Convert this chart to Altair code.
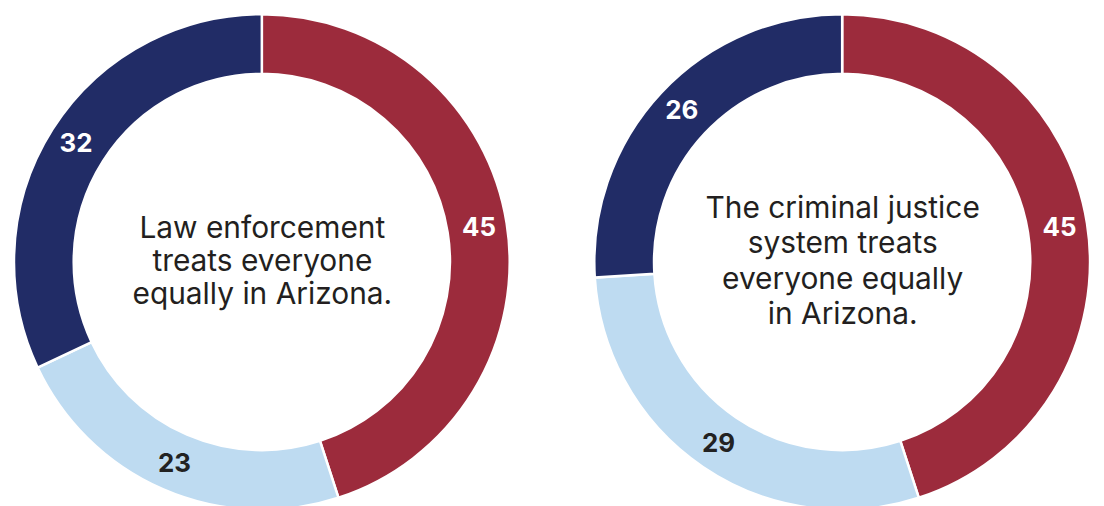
import altair as alt
import pandas as pd

# Data
categories = ["Disagree", "Unsure", "Agree"]
law_values = [45, 23, 32]
justice_values = [45, 29, 26]
titles = ["Law enforcement\ntreats everyone\nequally in Arizona.",
          "The criminal justice\nsystem treats\neveryone equally\nin Arizona."]
line_heights = [33.5, 35.5]
colors = ["#9C2B3C", "#BEDBF1", "#212C66"]
label_colors = ["#FFFFFF", "#222222", "#FFFFFF"]

W, H = 510, 498
CY = 251
R_OUT, R_IN, R_LAB = 249, 189, 221
FONT = "Inter"


def donut(values, title, lh):
    n_lines = title.count("\n") + 1
    df = pd.DataFrame({
        "category": categories,
        "value": values,
        "order": list(range(len(categories))),
        "lab_color": label_colors,
        "title": [title] * len(categories),
    })
    base = alt.Chart(df).encode(
        theta=alt.Theta("value:Q", stack=True),
        order=alt.Order("order:Q"),
        y=alt.value(CY),
    )
    arcs = base.mark_arc(outerRadius=R_OUT, innerRadius=R_IN, stroke="white", strokeWidth=2.5).encode(
        color=alt.Color("category:N", scale=alt.Scale(domain=categories, range=colors), legend=None),
    )
    labels = base.mark_text(radius=R_LAB, font=FONT, fontSize=26, fontWeight="bold").encode(
        text=alt.Text("value:Q"),
        color=alt.Color("lab_color:N", scale=None),
    )
    center = alt.Chart(df.head(1)).mark_text(
        font=FONT, fontSize=30, color="#231F20", lineBreak="\n", lineHeight=lh,
        baseline="middle", align="center"
    ).encode(
        x=alt.value(W / 2 + 0.5),
        y=alt.value(CY - (n_lines - 1) * lh / 2),
        text="title:N",
    )
    return alt.layer(arcs, labels, center).properties(width=W, height=H)


chart = alt.hconcat(
    donut(law_values, titles[0], line_heights[0]),
    donut(justice_values, titles[1], line_heights[1]),
    spacing=73,
).properties(padding=0).configure_view(strokeWidth=0, stroke=None)

chart.save("out.html", embed_options={"renderer": "svg", "actions": False})
